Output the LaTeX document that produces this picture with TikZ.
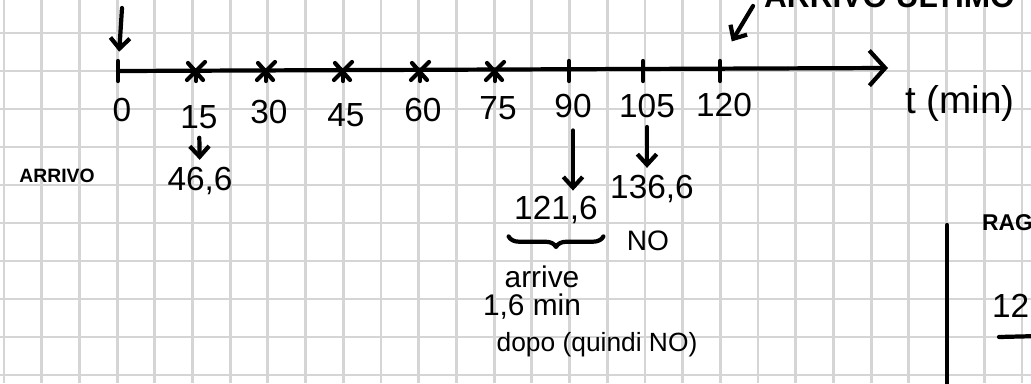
\documentclass[tikz,border=0pt]{standalone}
\usepackage{fontspec}
\setmainfont{Liberation Sans}
\usetikzlibrary{arrows.meta,decorations.pathreplacing,positioning}

\begin{document}
\begin{tikzpicture}[x=0.02cm, y=-0.02cm]
    \useasboundingbox (0,0) rectangle (1031,383);
    \clip (0,0) rectangle (1031,383);
    %
    \tikzset{ink/.style={line width=2.4pt, line cap=round, line join=round},
             down/.style={ink, -{Straight Barb[length=6pt, width=11pt]}},
             num/.style={font=\fontsize{19}{22}\selectfont, inner sep=1pt},
             note/.style={font=\fontsize{15}{18}\selectfont, inner sep=1pt}}

    %
    \fill[white] (0,0) rectangle (1031,383);
    \foreach \k in {0,...,27} {
        \draw[gray!33, line width=1.6pt] (4+37.7*\k,0) -- (4+37.7*\k,383);
    }
    \foreach \k in {0,...,9} {
        \draw[gray!33, line width=1.6pt] (0,33+38*\k) -- (1031,33+38*\k);
    }

    %
    \coordinate (o) at (118,71);
    \coordinate (tip) at (888,68);
    \draw[ink, -{Straight Barb[length=9pt, width=20pt]}] (o) -- (tip);

    %
    \foreach \t/\x/\y in {0/118/110, 90/569/106, 105/643/106, 120/720/105} {
        \draw[ink] (\x,61) -- (\x,81);
        \coordinate (k\t) at (\x,61);
        \node[num] (l\t) at (\x+4,\y) {\t};
    }
    \foreach \t/\x/\y in {15/196/117, 30/266/112, 45/343/115, 60/420/110, 75/495/108} {
        \draw[ink] (\x-9,80) -- (\x+9,62);
        \draw[ink] (\x-8,63) -- (\x+7,80);
        \draw[ink] (\x,70) -- (\x,81);
        \node[num] (l\t) at (\x+3,\y) {\t};
    }
    \node[num, font=\fontsize{22}{26}\selectfont] (tmin) at (960,103) {t (min)};

    %
    \coordinate (in0) at (122,8);
    \draw[down, shorten >=11pt] (in0) -- (o);
    \node[note, font=\fontsize{11}{13}\selectfont\bfseries] (arrivo) at (57,176) {ARRIVO};

    %
    \node[num] (v15) at (200,181) {46,6};
    \draw[down, shorten <=4pt, shorten >=3pt] (l15) -- (v15);

    \node[num] (v90) at (556,210) {121,6};
    \draw[down, shorten <=6pt, shorten >=2pt] (l90) -- (v90.north -| l90.south);
    \draw[ink, decorate, decoration={brace, mirror, amplitude=6pt}]
        ([xshift=-2pt, yshift=-6pt]v90.south west) -- ([xshift=2pt, yshift=-6pt]v90.south east);
    \node[note, font=\fontsize{17}{20}\selectfont] (arr) at (542,277) {arrive};
    \node[note, font=\fontsize{17}{20}\selectfont] (dopo1) at (532,307) {1,6 min};
    \node[note] (dopo2) at (597,345) {dopo (quindi NO)};

    \node[num] (v105) at (652,189) {136,6};
    \draw[down, shorten <=4pt, shorten >=3pt] (l105) -- (v105.north -| l105.south);
    \node[num, font=\fontsize{16}{19}\selectfont] (no) at (648,241) {NO};

    %
    \node[note, anchor=base west, font=\fontsize{18}{21}\selectfont\bfseries] (ultimo) at (762,7) {ARRIVO ULTIMO};
    \coordinate (u0) at (753,6);
    \draw[down, shorten >=13pt] (u0) -- (k120);

    %
    \draw[ink] (947,225) -- (947,390);
    \node[note, anchor=west, font=\fontsize{13}{16}\selectfont\bfseries] (rag) at (980,223) {RAG};
    \node[num, anchor=west] (dodici) at (990,306) {12};
    \draw[ink] (999,337) -- (1040,336);
\end{tikzpicture}
\end{document}
